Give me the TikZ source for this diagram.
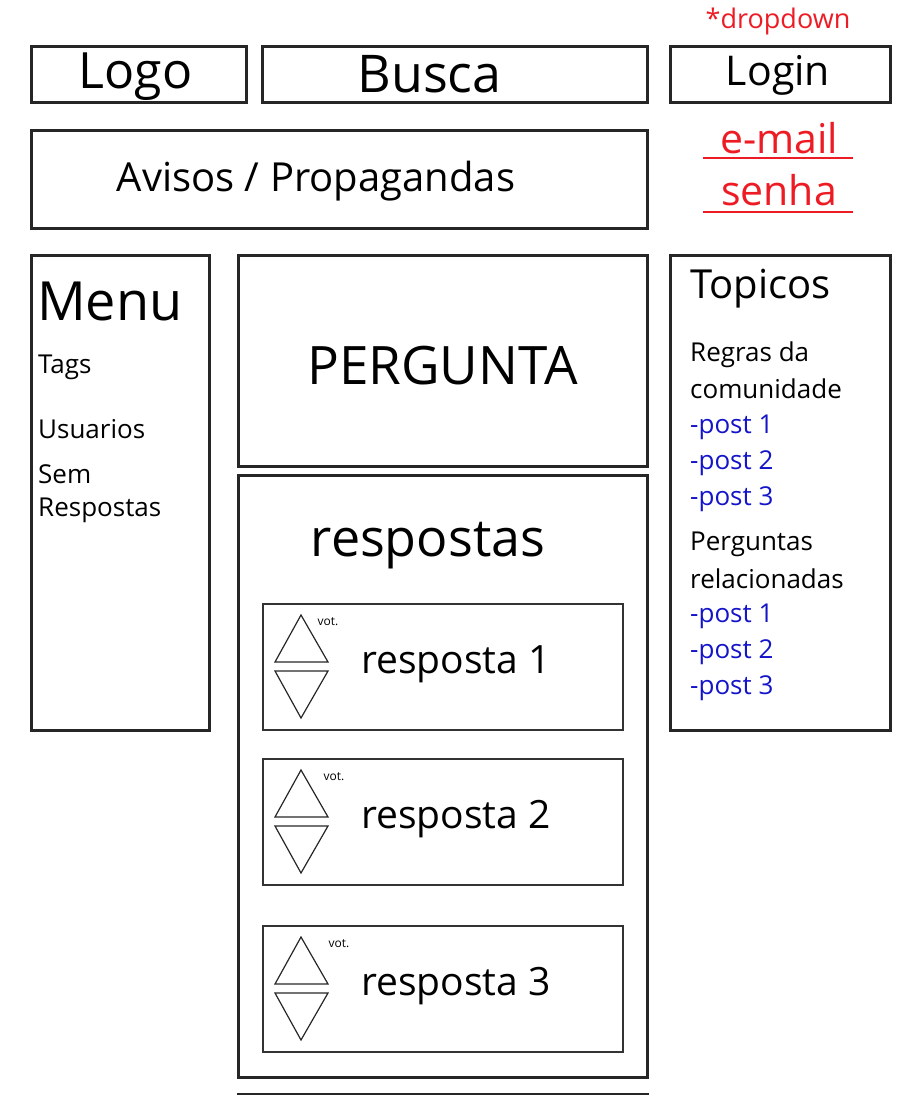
\documentclass[tikz,border=0pt]{standalone}
\usepackage{fontspec}
\setmainfont{Open Sans}
\newcommand{\fs}[1]{\fontsize{#1}{#1}\selectfont}
\definecolor{wred}{RGB}{237,28,36}
\definecolor{wblue}{RGB}{20,20,200}
\begin{document}
\begin{tikzpicture}[x=1pt, y=-1pt,
    box/.style={draw=black!85, line width=3pt, inner sep=0pt},
    ansbox/.style={draw=black!80, line width=1.5pt, inner sep=0pt, minimum width=360pt, minimum height=126pt},
    tri/.style={draw=black!85, line width=1.2pt},
    side/.style={anchor=west, inner sep=0pt, font=\fs{26}}]
    \useasboundingbox (0,0) rectangle (915,1095);

    % Header row
    \node[box, minimum width=215pt, minimum height=56pt] (logo) at (138.5,74) {};
    \node at ([xshift=-3pt, yshift=-3pt]logo.center) {\fs{50}Logo};
    \node[box, minimum width=385pt, minimum height=56pt] (busca) at (454.5,74) {};
    \node at ([xshift=-25pt]busca.center) {\fs{52}Busca};
    \node[box, minimum width=220pt, minimum height=56pt] (login) at (780,74) {};
    \node at ([xshift=-2pt, yshift=-1pt]login.center) {\fs{41}Login};
    \node[text=wred] (drop) at (778,21) {\fs{27}*dropdown};

    % Login dropdown fields
    \node[text=wred] (email) at (779,138) {\fs{41}e-mail};
    \draw[wred, line width=2pt] (703,158) -- (853,158);
    \node[text=wred] (senha) at (779,190) {\fs{41}senha};
    \draw[wred, line width=2pt] (703,212) -- (853,212);

    % Ads box
    \node[box, minimum width=616pt, minimum height=98pt] (avisos) at (339,179) {};
    \node at ([xshift=-23pt, yshift=-2pt]avisos.center) {\fs{40}Avisos / Propagandas};

    % Menu column
    \node[box, minimum width=178pt, minimum height=475pt] (menu) at (120,492.5) {};
    \node[side, font=\fs{54}] at (37,301) {Menu};
    \node[side] at (38,367) {Tags};
    \node[side] at (38,429) {Usuarios};
    \node[side] at (38,474) {Sem};
    \node[side] at (38,510) {Respostas};

    % Question box
    \node[box, minimum width=409pt, minimum height=211pt] (perg) at (442.5,360.5) {};
    \node at ([yshift=-5.5pt]perg.center) {\fs{53}PERGUNTA};

    % Answers box
    \node[box, minimum width=409pt, minimum height=602pt] (resp) at (442.5,776) {};
    \node at (428,546) {\fs{52}respostas};
    \draw[black!85, line width=3pt] ([yshift=-16pt]resp.south west) -- ([yshift=-16pt]resp.south east);

    \foreach \i/\top/\vx in {1/603/328, 2/758/334, 3/925/339} {
        \node[ansbox, anchor=north west] (ans\i) at (262,\top) {};
        \node at (456,\top+61) {\fs{39}resposta \i};
        \draw[tri] (301,\top+12) -- (328,\top+59) -- (275,\top+59) -- cycle;
        \draw[tri] (275,\top+68) -- (328,\top+68) -- (301,\top+115) -- cycle;
        \node at (\vx,\top+19) {\fs{12}vot.};
    }

    % Topics column
    \node[box, minimum width=220pt, minimum height=475pt] (topicos) at (780,492.5) {};
    \node[side, font=\fs{40}] at (690,289) {Topicos};
    \node[side] at (690,355) {Regras da};
    \node[side] at (690,389) {comunidade};
    \foreach \n/\y in {1/427, 2/463, 3/499}
        \node[side, text=wblue] at (690,\y) {-post \n};
    \node[side] at (690,544) {Perguntas};
    \node[side] at (690,579) {relacionadas};
    \foreach \n/\y in {1/616, 2/652, 3/688}
        \node[side, text=wblue] at (690,\y) {-post \n};
\end{tikzpicture}
\end{document}
